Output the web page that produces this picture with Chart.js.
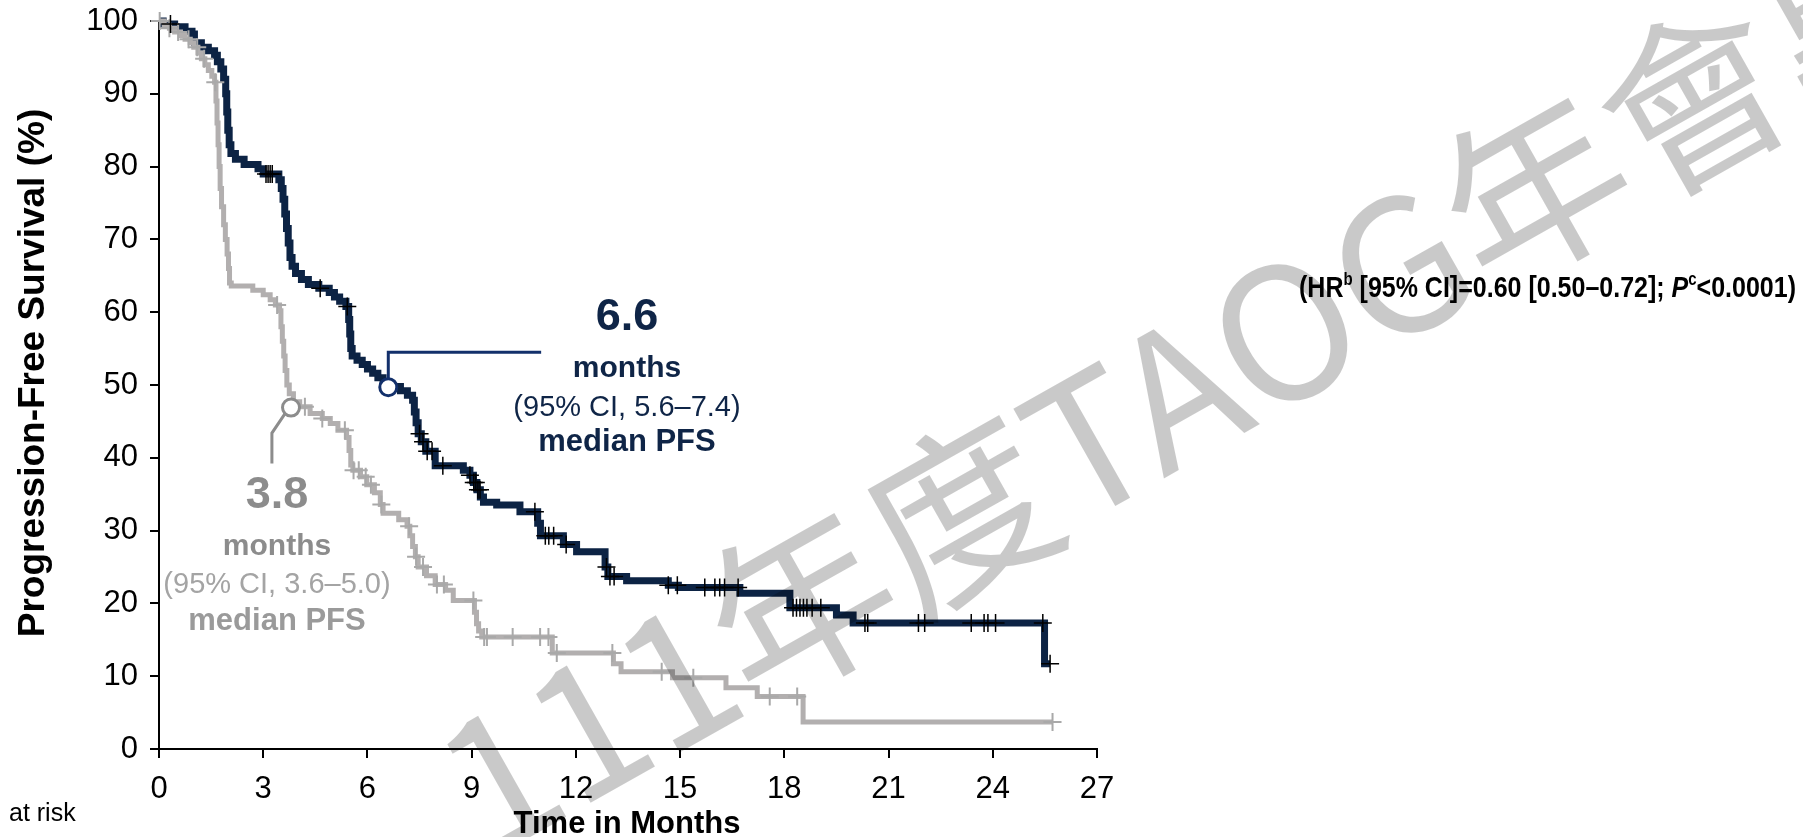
<!DOCTYPE html>
<html>
<head>
<meta charset="utf-8">
<script src="https://cdn.jsdelivr.net/npm/chart.js@4.4.1/dist/chart.umd.min.js"></script>
<style>
  html, body { margin: 0; padding: 0; background: #fff; overflow: hidden; }
  canvas { display: block; }
</style>
</head>
<body>
<canvas id="pfs" width="1803" height="837"></canvas>
<script>
// Kaplan–Meier progression-free survival: month of each step and % progression-free after it
const navyTime = [0, 0.12, 0.45, 0.75, 0.95, 1.02, 1.22, 1.42, 1.6, 1.68, 1.78, 1.86, 1.92, 1.95, 1.98, 2.02, 2.07, 2.2, 2.45, 2.85,
  3.0, 3.45, 3.52, 3.57, 3.62, 3.67, 3.72, 3.77, 3.83, 3.93, 4.1, 4.3, 4.6, 4.9, 5.05, 5.2, 5.38, 5.46, 5.49, 5.52,
  5.56, 5.7, 5.85, 6.0, 6.15, 6.3, 6.45, 6.6, 6.95, 7.15, 7.3, 7.35, 7.4, 7.46, 7.55, 7.68, 7.95, 8.76, 8.95, 9.05,
  9.15, 9.25, 9.34, 9.72, 10.39, 10.9, 10.98, 11.64, 12.02, 12.84, 12.92, 13.46, 14.66, 14.95, 16.72, 18.16, 19.5, 19.98, 25.49, 25.65];
const navySurv = [100, 99.6, 99.2, 98.6, 98.2, 97.0, 96.4, 95.9, 95.3, 94.4, 93.4, 92.0, 90.0, 87.5, 85.0, 83.0, 81.8, 81.0, 80.3, 79.7,
  79.0, 78.2, 77.0, 75.5, 73.5, 71.5, 69.5, 67.5, 66.3, 65.3, 64.5, 63.8, 63.3, 62.7, 62.1, 61.5, 60.8, 59.0, 57.0, 55.0,
  54.0, 53.4, 52.8, 52.2, 51.6, 51.0, 50.4, 49.8, 49.2, 48.6, 47.9, 46.3, 44.8, 43.3, 42.2, 40.9, 38.9, 38.3, 37.6, 36.6,
  35.6, 34.6, 33.9, 33.5, 32.6, 31.0, 29.3, 28.1, 27.1, 25.0, 23.7, 23.1, 22.5, 22.2, 21.4, 19.4, 18.4, 17.3, 11.7, 11.7];

const grayTime = [0, 0.15, 0.3, 0.45, 0.62, 0.75, 0.9, 1.0, 1.12, 1.22, 1.32, 1.42, 1.52, 1.6, 1.64, 1.67, 1.7, 1.73, 1.76, 1.8,
  1.86, 1.91, 1.96, 2.0, 2.03, 2.08, 2.7, 3.0, 3.2, 3.35, 3.47, 3.51, 3.55, 3.59, 3.63, 3.68, 3.75, 3.87, 4.05, 4.35,
  4.7, 4.93, 5.15, 5.4, 5.47, 5.52, 5.58, 5.8, 5.98, 6.2, 6.37, 6.45, 6.9, 7.14, 7.22, 7.3, 7.38, 7.46, 7.7, 7.95,
  8.25, 8.47, 9.08, 9.14, 9.2, 9.29, 11.32, 13.08, 13.3, 14.78, 16.32, 17.22, 18.54, 25.72];
const graySurv = [100, 99.4, 99.0, 98.5, 98.0, 97.5, 97.0, 96.4, 95.6, 94.8, 94.0, 93.2, 92.4, 91.6, 89.0, 86.0, 83.0, 80.0, 77.0, 74.5,
  72.0, 70.0, 68.0, 66.0, 64.0, 63.6, 63.0, 62.4, 61.7, 61.0, 60.2, 58.0, 56.0, 54.0, 52.0, 50.0, 48.8, 47.7, 47.0, 46.1,
  45.4, 44.7, 43.8, 42.8, 41.0, 39.0, 38.3, 37.4, 36.3, 35.2, 33.6, 32.4, 31.5, 30.6, 29.3, 27.8, 26.4, 25.0, 23.8, 22.6,
  21.8, 20.4, 18.8, 17.2, 16.2, 15.4, 13.2, 11.7, 10.6, 9.8, 8.4, 7.2, 3.7, 3.7];

// censored observations, months
const navyCensor = [0.33, 3.08, 3.14, 3.2, 3.26, 4.64, 5.42, 7.5, 7.6, 7.72, 7.86, 8.17, 8.95, 9.06, 9.12, 9.18, 9.24,
  10.82, 11.12, 11.22, 11.36, 11.72, 12.88, 12.98, 13.1, 14.66, 14.92, 15.71, 16.0, 16.14, 16.28, 16.67,
  18.25, 18.35, 18.45, 18.55, 18.65, 18.8, 19.05, 20.32, 20.4, 21.86, 22.04, 23.38, 23.75, 23.86, 24.08, 25.44, 25.65];
const grayCensor = [0.02, 0.3, 0.55, 0.85, 1.1, 1.3, 1.62, 3.4, 4.2, 4.7, 5.35, 5.6, 5.75, 5.95, 6.1, 6.4, 7.2, 7.4,
  7.6, 8.0, 8.2, 9.05, 9.36, 9.44, 10.18, 10.97, 11.21, 11.45, 13.05, 14.47, 15.38, 17.58, 18.37, 25.72];

// median PFS (months) and where the marker sits on each curve
const medianMonths = [6.6, 3.8];
const medianLevel = [49.7, 46.9];

const xTickLabels = [0, 3, 6, 9, 12, 15, 18, 21, 24, 27];
const yTickLabels = [0, 10, 20, 30, 40, 50, 60, 70, 80, 90, 100];

const FONT = '"Liberation Sans", Arial, Helvetica, sans-serif';
const NAVY = '#0c2344';
const GRAY = '#b2afaf';

const toXY = (t, s) => t.map((v, i) => ({ x: v, y: s[i] }));
function survAt(times, surv, t) {
  let s = surv[0];
  for (let i = 0; i < times.length; i++) if (times[i] <= t) s = surv[i];
  return s;
}

const overlay = {
  id: 'overlay',
  afterDatasetsDraw(chart) {
    const { ctx } = chart;
    const x = chart.scales.x, y = chart.scales.y;
    ctx.save();

    // navy median marker and leader
    const nx = x.getPixelForValue(medianMonths[0]);
    const ny = y.getPixelForValue(medianLevel[0]);
    ctx.strokeStyle = '#13306b';
    ctx.lineWidth = 3;
    ctx.beginPath();
    ctx.moveTo(nx, ny - 9);
    ctx.lineTo(nx, y.getPixelForValue(54.5));
    ctx.lineTo(x.getPixelForValue(11.0), y.getPixelForValue(54.5));
    ctx.stroke();
    ctx.beginPath();
    ctx.arc(nx, ny, 8.5, 0, Math.PI * 2);
    ctx.fillStyle = '#fff';
    ctx.fill();
    ctx.stroke();

    // gray median marker and leader
    const gx = x.getPixelForValue(medianMonths[1]);
    const gy = y.getPixelForValue(medianLevel[1]);
    ctx.strokeStyle = '#8c8c8c';
    ctx.beginPath();
    ctx.moveTo(gx - 6, gy + 6);
    ctx.lineTo(x.getPixelForValue(3.25), y.getPixelForValue(43.4));
    ctx.lineTo(x.getPixelForValue(3.25), y.getPixelForValue(39.2));
    ctx.stroke();
    ctx.beginPath();
    ctx.arc(gx, gy, 8.5, 0, Math.PI * 2);
    ctx.fillStyle = '#fff';
    ctx.fill();
    ctx.stroke();

    ctx.textAlign = 'center';
    ctx.textBaseline = 'alphabetic';
    // navy median text
    ctx.fillStyle = '#0f2547';
    ctx.font = 'bold 45px ' + FONT;
    ctx.fillText('6.6', 627, 330);
    ctx.font = 'bold 30px ' + FONT;
    ctx.fillText('months', 627, 377);
    ctx.font = '29px ' + FONT;
    ctx.fillText('(95% CI, 5.6\u20137.4)', 627, 416);
    ctx.font = 'bold 31px ' + FONT;
    ctx.fillText('median PFS', 627, 451);

    // gray median text
    ctx.fillStyle = '#8c8c8c';
    ctx.font = 'bold 45px ' + FONT;
    ctx.fillText('3.8', 277, 508);
    ctx.font = 'bold 30px ' + FONT;
    ctx.fillText('months', 277, 555);
    ctx.fillStyle = '#a4a4a4';
    ctx.font = '29px ' + FONT;
    ctx.fillText('(95% CI, 3.6\u20135.0)', 277, 593);
    ctx.fillStyle = '#9a9a9a';
    ctx.font = 'bold 31px ' + FONT;
    ctx.fillText('median PFS', 277, 630);

    // axis titles
    ctx.fillStyle = '#000';
    ctx.font = 'bold 31px ' + FONT;
    ctx.fillText('Time in Months', 627, 833);
    ctx.textAlign = 'left';
    ctx.font = '25px ' + FONT;
    ctx.fillText('at risk', 9, 821);

    ctx.save();
    ctx.translate(44, 373);
    ctx.rotate(-Math.PI / 2);
    ctx.textAlign = 'center';
    ctx.font = 'bold 37px ' + FONT;
    ctx.fillText('Progression-Free Survival (%)', 0, 0);
    ctx.restore();

    // hazard ratio line, condensed to its span
    const hrParts = [
      ['(HR', 'bold 30px ' + FONT, 0],
      ['b', 'bold 18px ' + FONT, -12],
      [' [95% CI]=0.60 [0.50\u20130.72]; ', 'bold 30px ' + FONT, 0],
      ['P', 'italic bold 30px ' + FONT, 0],
      ['c', 'bold 18px ' + FONT, -12],
      ['<0.0001)', 'bold 30px ' + FONT, 0]
    ];
    let total = 0;
    for (const [t, f] of hrParts) { ctx.font = f; total += ctx.measureText(t).width; }
    ctx.save();
    ctx.translate(1299, 297);
    ctx.scale(497 / total, 1);
    ctx.textAlign = 'left';
    let cx = 0;
    for (const [t, f, dy] of hrParts) {
      ctx.font = f;
      ctx.fillText(t, cx, dy);
      cx += ctx.measureText(t).width;
    }
    ctx.restore();

    ctx.restore();
  },
  afterDraw(chart) {
    // diagonal watermark across the plot
    const { ctx } = chart;
    ctx.save();
    ctx.font = '400 184px "Noto Sans CJK TC", "Noto Sans CJK SC", sans-serif';
    ctx.fillStyle = 'rgba(0,0,0,0.21)';
    ctx.textBaseline = 'middle';
    ctx.textAlign = 'left';
    const ang = -29.5 * Math.PI / 180;
    const d = ctx.measureText('111').width + ctx.measureText('\u5e74').width / 2;
    ctx.translate(800 - d * Math.cos(ang), 604 - d * Math.sin(ang));
    ctx.rotate(ang);
    ctx.fillText('111年度TAOG年會專刊', 0, 0);
    ctx.restore();
  }
};

const axisTicks = (values) => (scale) => { scale.ticks = values.map(v => ({ value: v })); };

new Chart(document.getElementById('pfs'), {
  type: 'line',
  data: {
    datasets: [
      {
        type: 'scatter', order: 0, clip: false,
        data: navyCensor.map(t => ({ x: t, y: survAt(navyTime, navySurv, t) })),
        pointStyle: 'cross', pointRadius: 9, pointBorderWidth: 1.5, borderColor: '#000', showLine: false
      },
      {
        type: 'scatter', order: 1, clip: false,
        data: grayCensor.map(t => ({ x: t, y: survAt(grayTime, graySurv, t) })),
        pointStyle: 'cross', pointRadius: 9, pointBorderWidth: 2, borderColor: '#a9a9a9', showLine: false
      },
      {
        order: 2, clip: false,
        data: toXY(grayTime, graySurv), stepped: true,
        borderColor: GRAY, borderWidth: 5, pointRadius: 0, fill: false,
        borderJoinStyle: 'miter', borderCapStyle: 'butt'
      },
      {
        order: 3, clip: false,
        data: toXY(navyTime, navySurv), stepped: true,
        borderColor: NAVY, borderWidth: 7, pointRadius: 0, fill: false,
        borderJoinStyle: 'miter', borderCapStyle: 'butt'
      }
    ]
  },
  options: {
    responsive: false,
    devicePixelRatio: 1,
    animation: false,
    layout: { padding: { top: 21, right: 706, bottom: 0, left: 0 } },
    plugins: { legend: { display: false }, tooltip: { enabled: false } },
    scales: {
      x: {
        type: 'linear', min: 0, max: 27,
        afterBuildTicks: axisTicks(xTickLabels),
        afterFit: (s) => { s.height = 88; s.paddingLeft = 0; s.paddingRight = 0; },
        ticks: { font: { family: FONT, size: 31 }, color: '#000', padding: 13, maxRotation: 0, autoSkip: false },
        grid: { drawOnChartArea: false, drawTicks: true, tickLength: 9, color: '#000', lineWidth: 2 },
        border: { display: true, color: '#000', width: 2 }
      },
      y: {
        type: 'linear', min: 0, max: 100,
        afterBuildTicks: axisTicks(yTickLabels),
        afterFit: (s) => { s.width = 159; s.paddingTop = 0; s.paddingBottom = 0; },
        ticks: { font: { family: FONT, size: 31 }, color: '#000', padding: 12, autoSkip: false },
        grid: { drawOnChartArea: false, drawTicks: true, tickLength: 9, color: '#000', lineWidth: 2 },
        border: { display: true, color: '#000', width: 2 }
      }
    }
  },
  plugins: [overlay]
});
</script>
</body>
</html>
